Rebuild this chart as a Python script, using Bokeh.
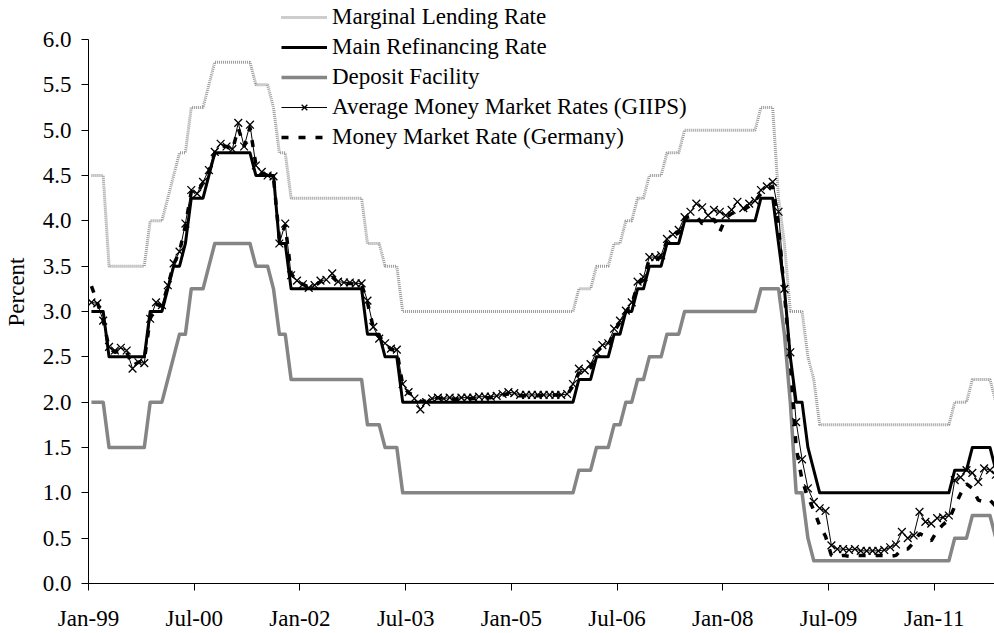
from bokeh.plotting import figure
from bokeh.models import Range1d, FixedTicker, Legend, LegendItem, NumeralTickFormatter, ColumnDataSource
from bokeh.embed import file_html
from bokeh.resources import INLINE

# Monthly observations, Jan 1999 ... Nov 2011
MARGINAL_LENDING = [
    4.5, 4.5, 4.5, 3.5, 3.5, 3.5, 3.5, 3.5, 3.5, 3.5, 4.0, 4.0,
    4.0, 4.25, 4.5, 4.75, 4.75, 5.25, 5.25, 5.25, 5.5, 5.75, 5.75, 5.75,
    5.75, 5.75, 5.75, 5.75, 5.5, 5.5, 5.5, 5.25, 4.75, 4.75, 4.25, 4.25,
    4.25, 4.25, 4.25, 4.25, 4.25, 4.25, 4.25, 4.25, 4.25, 4.25, 4.25, 3.75,
    3.75, 3.75, 3.5, 3.5, 3.5, 3.0, 3.0, 3.0, 3.0, 3.0, 3.0, 3.0,
    3.0, 3.0, 3.0, 3.0, 3.0, 3.0, 3.0, 3.0, 3.0, 3.0, 3.0, 3.0,
    3.0, 3.0, 3.0, 3.0, 3.0, 3.0, 3.0, 3.0, 3.0, 3.0, 3.0, 3.25,
    3.25, 3.25, 3.5, 3.5, 3.5, 3.75, 3.75, 4.0, 4.0, 4.25, 4.25, 4.5,
    4.5, 4.5, 4.75, 4.75, 4.75, 5.0, 5.0, 5.0, 5.0, 5.0, 5.0, 5.0,
    5.0, 5.0, 5.0, 5.0, 5.0, 5.0, 5.25, 5.25, 5.25, 4.25, 3.75, 3.0,
    3.0, 3.0, 2.5, 2.25, 1.75, 1.75, 1.75, 1.75, 1.75, 1.75, 1.75, 1.75,
    1.75, 1.75, 1.75, 1.75, 1.75, 1.75, 1.75, 1.75, 1.75, 1.75, 1.75, 1.75,
    1.75, 1.75, 1.75, 2.0, 2.0, 2.0, 2.25, 2.25, 2.25, 2.25, 2.0,
]
MAIN_REFI = [
    3.0, 3.0, 3.0, 2.5, 2.5, 2.5, 2.5, 2.5, 2.5, 2.5, 3.0, 3.0,
    3.0, 3.25, 3.5, 3.5, 3.75, 4.25, 4.25, 4.25, 4.5, 4.75, 4.75, 4.75,
    4.75, 4.75, 4.75, 4.75, 4.5, 4.5, 4.5, 4.5, 3.75, 3.75, 3.25, 3.25,
    3.25, 3.25, 3.25, 3.25, 3.25, 3.25, 3.25, 3.25, 3.25, 3.25, 3.25, 2.75,
    2.75, 2.75, 2.5, 2.5, 2.5, 2.0, 2.0, 2.0, 2.0, 2.0, 2.0, 2.0,
    2.0, 2.0, 2.0, 2.0, 2.0, 2.0, 2.0, 2.0, 2.0, 2.0, 2.0, 2.0,
    2.0, 2.0, 2.0, 2.0, 2.0, 2.0, 2.0, 2.0, 2.0, 2.0, 2.0, 2.25,
    2.25, 2.25, 2.5, 2.5, 2.5, 2.75, 2.75, 3.0, 3.0, 3.25, 3.25, 3.5,
    3.5, 3.5, 3.75, 3.75, 3.75, 4.0, 4.0, 4.0, 4.0, 4.0, 4.0, 4.0,
    4.0, 4.0, 4.0, 4.0, 4.0, 4.0, 4.25, 4.25, 4.25, 3.75, 3.25, 2.5,
    2.0, 2.0, 1.5, 1.25, 1.0, 1.0, 1.0, 1.0, 1.0, 1.0, 1.0, 1.0,
    1.0, 1.0, 1.0, 1.0, 1.0, 1.0, 1.0, 1.0, 1.0, 1.0, 1.0, 1.0,
    1.0, 1.0, 1.0, 1.25, 1.25, 1.25, 1.5, 1.5, 1.5, 1.5, 1.25,
]
DEPOSIT = [
    2.0, 2.0, 2.0, 1.5, 1.5, 1.5, 1.5, 1.5, 1.5, 1.5, 2.0, 2.0,
    2.0, 2.25, 2.5, 2.75, 2.75, 3.25, 3.25, 3.25, 3.5, 3.75, 3.75, 3.75,
    3.75, 3.75, 3.75, 3.75, 3.5, 3.5, 3.5, 3.25, 2.75, 2.75, 2.25, 2.25,
    2.25, 2.25, 2.25, 2.25, 2.25, 2.25, 2.25, 2.25, 2.25, 2.25, 2.25, 1.75,
    1.75, 1.75, 1.5, 1.5, 1.5, 1.0, 1.0, 1.0, 1.0, 1.0, 1.0, 1.0,
    1.0, 1.0, 1.0, 1.0, 1.0, 1.0, 1.0, 1.0, 1.0, 1.0, 1.0, 1.0,
    1.0, 1.0, 1.0, 1.0, 1.0, 1.0, 1.0, 1.0, 1.0, 1.0, 1.0, 1.25,
    1.25, 1.25, 1.5, 1.5, 1.5, 1.75, 1.75, 2.0, 2.0, 2.25, 2.25, 2.5,
    2.5, 2.5, 2.75, 2.75, 2.75, 3.0, 3.0, 3.0, 3.0, 3.0, 3.0, 3.0,
    3.0, 3.0, 3.0, 3.0, 3.0, 3.0, 3.25, 3.25, 3.25, 3.25, 2.75, 2.0,
    1.0, 1.0, 0.5, 0.25, 0.25, 0.25, 0.25, 0.25, 0.25, 0.25, 0.25, 0.25,
    0.25, 0.25, 0.25, 0.25, 0.25, 0.25, 0.25, 0.25, 0.25, 0.25, 0.25, 0.25,
    0.25, 0.25, 0.25, 0.5, 0.5, 0.5, 0.75, 0.75, 0.75, 0.75, 0.5,
]
GIIPS = [
    3.10, 3.09, 2.90, 2.61, 2.57, 2.60, 2.57, 2.37, 2.44, 2.43, 2.92, 3.10,
    3.07, 3.29, 3.53, 3.66, 3.97, 4.34, 4.30, 4.43, 4.56, 4.76, 4.85, 4.82,
    4.79, 5.08, 4.82, 5.06, 4.61, 4.54, 4.50, 4.49, 3.75, 3.97, 3.40, 3.34,
    3.30, 3.26, 3.29, 3.34, 3.35, 3.42, 3.33, 3.32, 3.32, 3.31, 3.31, 3.12,
    2.83, 2.70, 2.65, 2.59, 2.58, 2.20, 2.11, 2.04, 1.92, 2.00, 2.04, 2.05,
    2.04, 2.05, 2.04, 2.05, 2.05, 2.05, 2.06, 2.06, 2.06, 2.07, 2.09, 2.11,
    2.10, 2.08, 2.08, 2.08, 2.08, 2.08, 2.08, 2.08, 2.08, 2.09, 2.20, 2.37,
    2.35, 2.42, 2.55, 2.63, 2.65, 2.81, 2.90, 3.01, 3.10, 3.33, 3.38, 3.60,
    3.60, 3.62, 3.80, 3.85, 3.90, 4.04, 4.10, 4.19, 4.15, 4.06, 4.12, 4.10,
    4.06, 4.12, 4.21, 4.14, 4.19, 4.22, 4.34, 4.38, 4.43, 4.10, 3.25, 2.55,
    1.78, 1.37, 1.05, 0.90, 0.83, 0.80, 0.42, 0.38, 0.38, 0.37, 0.38, 0.36,
    0.36, 0.36, 0.36, 0.37, 0.40, 0.43, 0.57, 0.50, 0.53, 0.79, 0.68, 0.66,
    0.72, 0.73, 0.75, 1.14, 1.17, 1.25, 1.22, 1.12, 1.27, 1.25, 1.20,
]
GERMANY = [
    3.28, 3.10, 2.90, 2.60, 2.55, 2.58, 2.55, 2.40, 2.44, 2.46, 2.92, 3.08,
    3.06, 3.28, 3.52, 3.66, 3.95, 4.32, 4.30, 4.42, 4.55, 4.75, 4.83, 4.82,
    4.78, 5.02, 4.82, 5.03, 4.62, 4.53, 4.50, 4.48, 3.80, 3.95, 3.42, 3.33,
    3.30, 3.27, 3.28, 3.33, 3.34, 3.38, 3.32, 3.31, 3.31, 3.30, 3.30, 3.10,
    2.82, 2.72, 2.66, 2.58, 2.57, 2.19, 2.10, 2.08, 2.01, 2.01, 2.02, 2.05,
    2.03, 2.04, 2.03, 2.04, 2.04, 2.04, 2.05, 2.05, 2.05, 2.06, 2.08, 2.09,
    2.08, 2.07, 2.07, 2.07, 2.07, 2.08, 2.08, 2.08, 2.08, 2.08, 2.18, 2.32,
    2.33, 2.38, 2.55, 2.62, 2.63, 2.78, 2.88, 3.00, 3.08, 3.30, 3.35, 3.58,
    3.57, 3.60, 3.78, 3.83, 3.87, 4.03, 4.05, 4.05, 3.97, 3.98, 4.02, 3.88,
    4.03, 4.08, 4.10, 4.12, 4.16, 4.22, 4.30, 4.35, 4.38, 3.95, 3.20, 2.45,
    1.50, 1.14, 0.95, 0.81, 0.64, 0.52, 0.31, 0.30, 0.31, 0.30, 0.31, 0.31,
    0.31, 0.31, 0.31, 0.31, 0.30, 0.31, 0.38, 0.38, 0.45, 0.55, 0.52, 0.47,
    0.58, 0.65, 0.70, 0.85, 0.99, 1.10, 1.05, 0.92, 0.90, 0.92, 0.85,
]

X_TICK_LABELS = ["Jan-99", "Jul-00", "Jan-02", "Jul-03", "Jan-05",
                 "Jul-06", "Jan-08", "Jul-09", "Jan-11"]
Y_TICKS = [0.0, 0.5, 1.0, 1.5, 2.0, 2.5, 3.0, 3.5, 4.0, 4.5, 5.0, 5.5, 6.0]

n = len(MAIN_REFI)
src = ColumnDataSource(dict(
    x=[i + 0.5 for i in range(n)],
    mlf=MARGINAL_LENDING, mro=MAIN_REFI, dep=DEPOSIT,
    giips=GIIPS, ger=GERMANY,
))

FONT = "Liberation Serif"

p = figure(width=994, height=633, output_backend="svg", toolbar_location=None,
           x_range=Range1d(0, 154.27), y_range=Range1d(0, 6.43),
           min_border_left=88, min_border_right=0, min_border_top=0,
           min_border_bottom=50)
p.outline_line_color = None
p.xgrid.visible = False
p.ygrid.visible = False
p.background_fill_color = "white"
p.border_fill_color = "white"

r_mlf = p.line("x", "mlf", source=src, line_color="#9a9a9a", line_width=3,
               line_dash="1 1")
r_mro = p.line("x", "mro", source=src, line_color="black", line_width=3,
               line_join="round")
r_dep = p.line("x", "dep", source=src, line_color="#858585", line_width=3.5,
               line_join="round")
r_gi = p.line("x", "giips", source=src, line_color="black", line_width=1)
r_gim = p.scatter("x", "giips", source=src, marker="x", size=11,
                  line_color="black", line_width=1.3)
r_ger = p.line("x", "ger", source=src, line_color="black", line_width=3.5,
               line_dash="7 10")

# axes
p.xaxis.ticker = FixedTicker(ticks=[i * 18 for i in range(len(X_TICK_LABELS))],
                             minor_ticks=[])
p.xaxis.major_label_overrides = {i * 18: lab for i, lab in enumerate(X_TICK_LABELS)}
p.yaxis.ticker = FixedTicker(ticks=Y_TICKS, minor_ticks=[])
p.yaxis.formatter = NumeralTickFormatter(format="0.0")
p.yaxis.bounds = (Y_TICKS[0], Y_TICKS[-1])
p.yaxis.axis_label = "Percent"
for ax in (p.xaxis, p.yaxis):
    ax.axis_line_color = "black"
    ax.axis_line_width = 1
    ax.major_tick_line_color = "black"
    ax.major_tick_out = 7
    ax.major_tick_in = 0
    ax.minor_tick_out = 0
    ax.minor_tick_in = 0
    ax.major_label_text_font = FONT
    ax.major_label_text_font_size = "23px"
    ax.major_label_text_color = "black"
    ax.axis_label_text_font = FONT
    ax.axis_label_text_font_size = "23px"
    ax.axis_label_text_font_style = "normal"
    ax.axis_label_text_color = "black"
p.yaxis.major_label_standoff = 10
p.xaxis.major_label_standoff = 15
p.yaxis.axis_label_standoff = 11

legend = Legend(items=[
    LegendItem(label="Marginal Lending Rate", renderers=[r_mlf]),
    LegendItem(label="Main Refinancing Rate", renderers=[r_mro]),
    LegendItem(label="Deposit Facility", renderers=[r_dep]),
    LegendItem(label="Average Money Market Rates (GIIPS)", renderers=[r_gi, r_gim]),
    LegendItem(label="Money Market Rate (Germany)", renderers=[r_ger]),
], location=(193, 433))
legend.padding = 0
legend.margin = 0
legend.spacing = 4
legend.glyph_width = 46
legend.glyph_height = 20
legend.label_height = 20
legend.label_standoff = 5
legend.label_text_font = FONT
legend.label_text_font_size = "23px"
legend.label_text_color = "black"
legend.label_text_baseline = "middle"
legend.background_fill_alpha = 0
legend.border_line_color = None
p.add_layout(legend, "center")

open("out.html", "w").write(file_html(p, INLINE))
